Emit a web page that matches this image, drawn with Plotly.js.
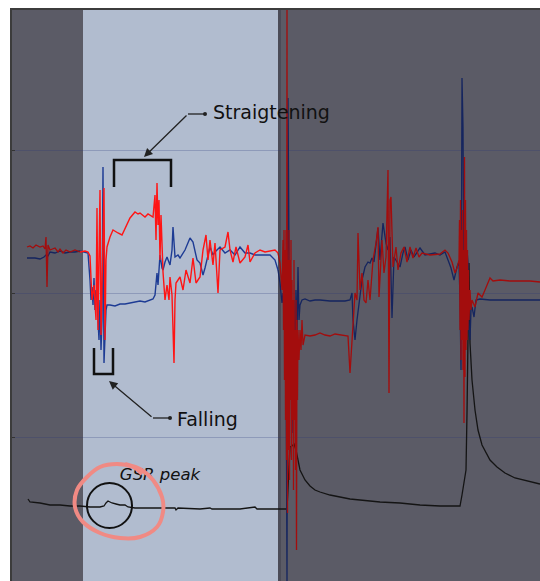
<!DOCTYPE html>
<html><head><meta charset="utf-8">
<script src="https://cdn.plot.ly/plotly-3.0.1.min.js"></script>
<style>html,body{margin:0;padding:0;background:#fff;} #chart{width:540px;height:581px;}</style>
</head><body><div id="chart"></div>
<script>
// ---- Data (time in samples, signal amplitude in arbitrary units) ----
const redT = [
 15,18,21,24,28,31,33,34,35,36,38,43,46,48,51,54,58,63,68,73,76,
 78,80,82,84,85,86,87,88,89,90,91,92,93,94,95,
 98,101,104,106,110,114,118,123,126,128,131,133,136,138,141,
 143,144,145,146,147,148,149,150,151,153,155,157,158,160,162,163,164,
 168,171,174,178,181,184,188,191,194,196,198,201,203,206,208,213,216,218,221,224,228,233,236,238,243,248,253,258,263,266,268,270,
 271,271.5,272,272.5,273,273.5,274,274.5,275,275.5,276,276.5,277,277.5,278,278.5,279,279.5,280,280.5,281,281.5,282,282.5,283,283.5,284,284.5,285,285.5,286,287,288,289,290,291,
 293,298,303,308,313,318,323,328,333,336,338,340,343,345,346,348,350,352,354,356,358,361,364,366,
 367,370,372,374,376,377,378,379,381,384,386,389,392,395,398,401,404,407,410,418,428,433,436,440,443,445,
 447,447.5,448,448.5,449,449.5,450,450.5,451,451.5,452,452.5,453,453.5,454,454.5,455,455.5,456,456.5,457,458,459,460,
 463,466,470,473,476,478,481,488,498,508,518,528];
const redV = [
 334,335,333,336,334,335,332,344,294,336,331,333,329,332,328,331,329,331,329,330,329,
 325,281,296,261,373,251,331,391,246,311,366,393,241,321,334,
 344,351,349,348,346,355,363,369,367,368,365,364,367,366,364,
 386,341,398,356,381,321,366,341,309,281,296,281,304,286,218,281,298,
 304,291,311,298,323,298,304,331,346,321,341,316,338,288,331,334,349,331,319,334,318,324,336,319,328,331,329,330,331,328,318,291,
 341,251,351,201,331,161,351,121,571,68,321,131,351,101,321,181,341,121,301,161,281,91,321,161,251,111,281,31,261,181,251,221,251,231,261,236,
 246,245,246,248,246,245,247,246,245,245,208,241,288,281,348,291,308,281,278,301,281,321,338,354,
 284,341,308,324,411,188,381,384,314,334,311,328,334,319,334,323,333,324,328,326,327,331,328,319,308,313,
 321,361,251,381,221,351,241,371,211,331,158,424,204,381,231,351,241,331,251,311,261,291,271,281,
 274,288,284,291,298,303,300,301,300,300,300,299];

const blueT = [
 15,23,28,32,34,36,38,43,48,53,58,63,68,73,76,
 78,79,80,81,82,83,84,85,86,87,88,89,90,91,92,93,94,95,
 98,103,108,113,118,123,128,133,138,141,143,144,145,146,148,150,151,153,155,158,160,161,163,166,168,
 173,178,181,185,188,191,193,195,198,201,203,208,213,218,223,228,233,238,243,248,253,258,263,266,268,270,
 271,272,273,274,275,276,277,278,279,280,281,282,283,284,285,286,287,288,290,293,298,303,308,318,328,333,338,339,340,341,343,345,348,350,353,356,358,360,362,364,366,368,371,374,376,378,379,380,382,385,388,391,393,396,399,402,405,408,413,418,423,428,433,436,439,442,445,447,
 448,449,450,451,452,453,454,455,456,457,458,459,460,462,464,468,478,488,528];
const blueV = [
 323,323,322,324,326,325,329,328,330,328,329,329,330,329,328,
 301,281,294,276,303,271,291,281,261,241,281,231,261,414,218,251,271,276,
 276,275,277,277,278,279,280,279,281,282,286,301,308,296,326,313,311,319,324,316,331,354,324,326,323,
 331,343,339,321,318,306,313,321,334,326,329,334,328,331,326,334,328,328,326,326,326,326,321,311,298,278,
 288,271,301,251,0,483,281,181,251,221,148,281,201,291,241,314,261,276,281,282,280,281,281,280,280,280,281,285,288,261,241,261,288,301,314,319,318,323,319,338,353,321,358,338,331,344,281,263,324,319,314,328,334,321,331,324,328,333,326,327,328,326,329,321,313,301,314,319,
 281,211,503,454,281,381,241,331,318,251,241,271,274,264,281,282,281,281,281];

const gsrT = [16,18,28,38,48,58,68,78,88,92,94,96,98,100,104,108,113,116,123,138,148,163,164,166,188,198,200,228,243,245,275,
 276,277,278,280,282,284,286,288,293,298,303,308,318,328,338,348,368,388,408,428,443,448,
 450,452,454,455,457,458,460,463,466,470,474,478,485,493,503,515,528];
const gsrV = [82,79,78,76,76,75,75,74,74,75,78,80,79,78,77,76,76,74,73,73,73,73,71,73,72,73,72,72,74,72,72,
 98,124,134,135,137,131,119,111,101,95,91,89,86,84,82,81,79,78,76,75,75,75,
 86,98,111,168,318,238,201,171,151,136,128,121,114,108,103,100,97];

const gridVals = [144, 287.5, 431];
const lightStart = 71, lightEnd = 266;   // highlighted time window

const labelStraight = 'Straigtening';
const labelFalling = 'Falling';
const labelGsr = 'GSR peak';

// ---- helpers ----
function darkPart(t, v) {
  return v.map((y, i) => (t[i] > lightStart && t[i] < lightEnd) ? null : y);
}
function brightPart(t, v) {
  let a = 0, b = t.length - 1;
  for (let i = 0; i < t.length; i++) if (t[i] <= lightStart) a = i;
  for (let i = t.length - 1; i >= 0; i--) if (t[i] >= lightEnd) b = i;
  return {x: t.slice(a, b + 1), y: v.slice(a, b + 1)};
}
const rb = brightPart(redT, redV), bb = brightPart(blueT, blueV);

const traces = [
  {x: gsrT, y: gsrV, mode: 'lines', line: {color: '#141414', width: 1.3}},
  {x: blueT, y: darkPart(blueT, blueV), mode: 'lines', connectgaps: false, line: {color: '#15255f', width: 1.3}},
  {x: bb.x, y: bb.y, mode: 'lines', line: {color: '#1d3b94', width: 1.4}},
  {x: redT, y: darkPart(redT, redV), mode: 'lines', connectgaps: false, line: {color: '#a30d0d', width: 1.3}},
  {x: rb.x, y: rb.y, mode: 'lines', line: {color: '#ff1414', width: 1.4}}
];

// hand drawn pink loop (smooth path through points)
const pinkPts = [[113,117],[128,112],[141,101],[150,84],[151,69],[145,54],[128,44],[108,43],[88,48],[71,59],[63,74],[65,91],[75,104],[88,114],[105,117],[121,114],[130,107]];
function smoothPath(p) {
  let s = 'M' + p[0][0] + ',' + p[0][1];
  for (let i = 0; i < p.length - 1; i++) {
    const p0 = p[Math.max(0, i - 1)], p1 = p[i], p2 = p[i + 1], p3 = p[Math.min(p.length - 1, i + 2)];
    const c1 = [p1[0] + (p2[0] - p0[0]) / 6, p1[1] + (p2[1] - p0[1]) / 6];
    const c2 = [p2[0] - (p3[0] - p1[0]) / 6, p2[1] - (p3[1] - p1[1]) / 6];
    s += ' C' + c1[0].toFixed(1) + ',' + c1[1].toFixed(1) + ' ' + c2[0].toFixed(1) + ',' + c2[1].toFixed(1) + ' ' + p2[0] + ',' + p2[1];
  }
  return s;
}

const ink = '#222';
const shapes = [
  {type: 'rect', xref: 'x', yref: 'y', x0: -5, x1: lightStart, y0: -5, y1: 580, fillcolor: '#5b5b66', line: {width: 0}, layer: 'below'},
  {type: 'rect', xref: 'x', yref: 'y', x0: lightEnd, x1: 540, y0: -5, y1: 580, fillcolor: '#5b5b66', line: {width: 0}, layer: 'below'},
  {type: 'line', xref: 'x', yref: 'y', x0: lightEnd + 1.5, x1: lightEnd + 1.5, y0: -5, y1: 580, line: {color: '#4b4b57', width: 3}, layer: 'below'},
  // brackets
  {type: 'path', xref: 'x', yref: 'y', path: 'M102,394 L102,421 L159,421 L159,394', line: {color: '#111', width: 2.5}},
  {type: 'path', xref: 'x', yref: 'y', path: 'M82,233 L82,207 L101,207 L101,233', line: {color: '#111', width: 2.5}},
  // leader lines + dots
  {type: 'line', xref: 'x', yref: 'y', x0: 176, y0: 467, x1: 193, y1: 467, line: {color: ink, width: 1.3}},
  {type: 'circle', xref: 'x', yref: 'y', x0: 191, x1: 195, y0: 465, y1: 469, fillcolor: ink, line: {width: 0}},
  {type: 'line', xref: 'x', yref: 'y', x0: 141, y0: 163, x1: 158, y1: 163, line: {color: ink, width: 1.3}},
  {type: 'circle', xref: 'x', yref: 'y', x0: 156, x1: 160, y0: 161, y1: 165, fillcolor: ink, line: {width: 0}},
  // GSR peak label (drawn under the pink loop)
  {type: 'rect', xref: 'x', yref: 'y', x0: 100, x1: 196, y0: 98, y1: 118, fillcolor: 'rgba(0,0,0,0)', line: {width: 0},
   label: {text: labelGsr, textposition: 'middle center', font: {family: 'DejaVu Sans', size: 16.5, style: 'italic', color: '#111'}}},
  // black circle
  {type: 'circle', xref: 'x', yref: 'y', x0: 75, x1: 120, y0: 53, y1: 98, line: {color: '#111', width: 2}},
  // pink loop
  {type: 'path', xref: 'x', yref: 'y', path: smoothPath(pinkPts), line: {color: '#f08a84', width: 4}}
];

const annotations = [
  {xref: 'x', yref: 'y', x: 132, y: 424, ax: 176, ay: 467, axref: 'x', ayref: 'y', text: '', showarrow: true,
   arrowhead: 2, arrowsize: 1.3, arrowwidth: 1.3, arrowcolor: ink},
  {xref: 'x', yref: 'y', x: 97, y: 200, ax: 141, ay: 163, axref: 'x', ayref: 'y', text: '', showarrow: true,
   arrowhead: 2, arrowsize: 1.3, arrowwidth: 1.3, arrowcolor: ink},
  {xref: 'x', yref: 'y', x: 199, y: 469, xanchor: 'left', yanchor: 'middle', text: labelStraight, showarrow: false,
   font: {family: 'DejaVu Sans', size: 19, color: '#111'}},
  {xref: 'x', yref: 'y', x: 163, y: 162, xanchor: 'left', yanchor: 'middle', text: labelFalling, showarrow: false,
   font: {family: 'DejaVu Sans', size: 19, color: '#111'}}
];

const layout = {
  width: 540, height: 581,
  margin: {l: 12, r: 0, t: 10, b: 0},
  paper_bgcolor: '#ffffff', plot_bgcolor: '#b1bccf',
  showlegend: false,
  xaxis: {range: [0, 528], showgrid: false, zeroline: false, showticklabels: false, ticks: '',
          showline: true, side: 'top', linecolor: '#3c3c3c', linewidth: 2},
  yaxis: {range: [0, 571], tickmode: 'array', tickvals: gridVals, showgrid: true, gridcolor: 'rgba(40,50,120,0.25)', gridwidth: 1,
          zeroline: false, showticklabels: false, ticks: 'inside', ticklen: 3, tickcolor: '#333',
          showline: true, linecolor: '#3c3c3c', linewidth: 2},
  shapes: shapes,
  annotations: annotations
};

Plotly.newPlot('chart', traces, layout, {staticPlot: true, displayModeBar: false});
</script></body></html>
